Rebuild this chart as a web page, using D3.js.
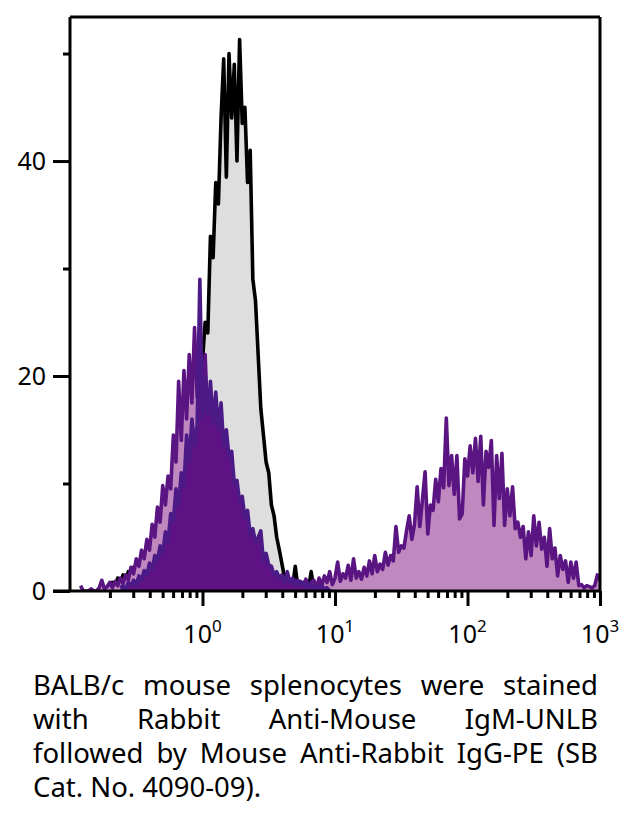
<!DOCTYPE html>
<html>
<head>
<meta charset="utf-8">
<script src="https://cdn.jsdelivr.net/npm/d3@7"></script>
<style>
body { margin: 0; background: #fff; }
</style>
</head>
<body>
<svg id="chart" width="625" height="818"></svg>
<script>
// channel grid of the histogram: 50 channels per decade, channel 0 sits at 10^-1
var chLog0 = -1, chStep = 0.02;

// unstained (grey, black outline)
var grayStart = 14;
var grayCounts = [
  0.4, 0, 0.8, 0.3, 1.2, 0.6, 1.5, 0.8, 1.8, 1.2,
  2.2, 1.8, 2.8, 2.5, 3.6, 3.2, 4.5, 4.1, 5.6, 5.2,
  6.9, 6.4, 8.1, 7.8, 9.6, 9.4, 11.2, 11.0, 13.1, 12.9,
  15.0, 15.2, 17.3, 17.0, 18.0, 19.6, 21.5, 25, 24, 33,
  31, 38, 36, 44, 49.5, 38.5, 50, 44, 49, 40,
  51.3, 43.5, 45, 38, 41, 29, 27, 22, 17, 14.5,
  12, 11, 8, 7, 5, 3.8, 2.5, 1.2, 0.6, 0.3,
  0.4, 2.3, 0.3, 0.2, 0.1, 0.3, 0.2, 1.8, 0.2, 0.1, 0
];

// stained sample (light purple, two populations)
var lightStart = 4;
var lightCounts = [
  0.5, 0, 0, 0, 0.2, 0, 0, 0.3, 1.0, 0.2,
  0.4, 0.8, 0.3, 0.9, 0.5, 1.2, 0.7, 1.5, 1.0, 2.2,
  1.6, 3.0, 2.3, 3.8, 3.0, 4.8, 3.8, 6.2, 5.0, 7.8,
  6.4, 9.8, 8.0, 10.7, 9.5, 14.5, 12.0, 19.5, 14.0, 20.5,
  16.0, 22.0, 17.5, 24.5, 18.0, 21.5, 17.0, 22.0, 15.5, 18.2,
  14.0, 17.3, 12.5, 14.0, 11.0, 13.3, 9.5, 10.5, 8.0, 8.9,
  6.5, 7.0, 5.0, 5.5, 4.0, 5.1, 3.0, 4.9, 2.2, 2.7,
  1.5, 1.9, 1.0, 1.4, 0.6, 1.2, 0.5, 0.9, 0.3, 0.8,
  0.4, 1.0, 0.3, 0.9, 0.5, 1.1, 0.4, 0.8, 1.0, 0.3,
  1.2, 0.5, 1.4, 0.8, 1.8, 0.6, 1.2, 2.7, 0.9, 1.6,
  1.2, 2.4, 1.0, 3.0, 1.2, 1.8, 1.1, 2.2, 1.4, 2.8,
  1.6, 3.3, 1.8, 2.5, 2.0, 3.6, 2.4, 3.3, 2.8, 6.0,
  3.6, 4.2, 4.0, 5.6, 7.0, 4.8, 6.2, 9.7, 6.0, 8.5,
  11.1, 5.3, 8.0, 7.5, 10.4, 8.3, 11.4, 9.6, 16.1, 9.8,
  12.6, 9.0, 12.6, 6.7, 7.2, 12.3, 10.7, 13.5, 11.0, 14.2,
  10.2, 14.4, 8.0, 13.0, 11.5, 14.0, 6.1, 12.6, 8.6, 12.8,
  6.1, 9.5, 7.0, 9.7, 5.8, 6.4, 5.0, 6.0, 3.0, 5.5,
  3.3, 7.0, 4.2, 6.4, 3.9, 5.0, 2.3, 5.8, 3.0, 4.0,
  1.4, 3.3, 2.0, 2.8, 0.8, 2.7, 1.2, 2.7, 0.5, 0.6,
  0.3, 0.5, 0.4, 0.3, 0.5, 1.5, 1.0
];

// secondary only (dark purple)
var darkStart = 19;
var darkCounts = [
  0.3, 0.5, 0.2, 0.8, 0.5, 1.0, 0.6, 1.4, 1.0, 1.9,
  1.5, 2.6, 2.0, 3.3, 2.8, 4.2, 3.5, 5.5, 4.6, 7.2,
  6.5, 9.5, 8.0, 11.0, 9.8, 14.5, 12.0, 16.0, 13.5, 15.5,
  29.0, 16.0, 20.0, 16.5, 19.5, 15.5, 18.5, 15.0, 17.5, 13.5,
  15.0, 12.5, 13.0, 10.0, 10.3, 8.3, 8.8, 6.8, 7.5, 5.2,
  5.8, 4.5, 5.0, 5.6, 2.8, 3.5, 2.4, 2.3, 1.5, 1.8,
  1.2, 1.5, 0.8, 1.8, 0.8, 1.2, 0.6, 1.0, 0.5, 0.8,
  0.4, 0.7, 0.3, 0.6, 0.2, 0.4, 0.5, 0.2, 0.3, 0, 0
];

var yMajor = [0, 20, 40];
var yMinor = [10, 30, 50];
var xMajor = [1, 10, 100, 1000];
var xExp = ["0", "1", "2", "3"];
var xDecades = [0.1, 1, 10, 100];
var xMinorSteps = [2, 3, 4, 5, 6, 7, 8, 9];

var caption = [
  "BALB/c mouse splenocytes were stained",
  "with Rabbit Anti-Mouse IgM-UNLB",
  "followed by Mouse Anti-Rabbit IgG-PE (SB",
  "Cat. No. 4090-09)."
];

var svg = d3.select("#chart");
var font = "'Noto Sans', sans-serif";

var x = d3.scaleLog().domain([0.1, 1000]).range([70, 600]);
var y = d3.scaleLinear().domain([0, 53.4]).range([591, 17]);

function toPoints(start, counts) {
  return counts.map(function(c, i) {
    return { v: Math.pow(10, chLog0 + (start + i) * chStep), c: c };
  });
}

svg.append("clipPath").attr("id", "plotclip")
  .append("rect").attr("x", 70).attr("y", 17).attr("width", 530).attr("height", 574);

var area = d3.area()
  .x(function(d) { return x(d.v); })
  .y0(y(0))
  .y1(function(d) { return y(d.c); });
var line = d3.line()
  .x(function(d) { return x(d.v); })
  .y(function(d) { return y(d.c); });

var series = [
  { start: grayStart, counts: grayCounts, fill: "#dedede", stroke: "#000000" },
  { start: lightStart, counts: lightCounts, fill: "#bf89bf", stroke: "#5b1583" },
  { start: darkStart, counts: darkCounts, fill: "#5f1283", stroke: "#4b1a86" }
];

var plot = svg.append("g").attr("clip-path", "url(#plotclip)");
series.forEach(function(s) {
  var p = toPoints(s.start, s.counts);
  plot.append("path").datum(p).attr("d", area).attr("fill", s.fill);
  plot.append("path").datum(p).attr("d", line)
    .attr("fill", "none").attr("stroke", s.stroke)
    .attr("stroke-width", 3.6).attr("stroke-linejoin", "round");
});

// axes
var xMinor = [];
xDecades.forEach(function(d) { xMinorSteps.forEach(function(m) { xMinor.push(d * m); }); });

var gxMinor = svg.append("g").attr("transform", "translate(0,591)")
  .call(d3.axisBottom(x).tickValues(xMinor).tickSize(7).tickFormat(""));
var gxMajor = svg.append("g").attr("transform", "translate(0,591)")
  .call(d3.axisBottom(x).tickValues(xMajor).tickSize(15).tickFormat(""));

var gyMinor = svg.append("g").attr("transform", "translate(70,0)")
  .call(d3.axisLeft(y).tickValues(yMinor).tickSize(7).tickFormat(""));
var gyMajor = svg.append("g").attr("transform", "translate(70,0)")
  .call(d3.axisLeft(y).tickValues(yMajor).tickSize(17).tickPadding(7).tickFormat(d3.format("d")));

[gxMinor, gxMajor, gyMinor, gyMajor].forEach(function(g) {
  g.select(".domain").remove();
  g.selectAll(".tick line").attr("stroke", "#000").attr("stroke-width", 3);
});
gyMajor.selectAll(".tick text")
  .attr("font-family", font).attr("font-size", 25).attr("fill", "#000");

// x labels as 10^n
xMajor.forEach(function(v, i) {
  var t = svg.append("text")
    .attr("x", x(v)).attr("y", 643)
    .attr("text-anchor", "middle")
    .attr("font-family", font).attr("font-size", 25).attr("fill", "#000");
  t.append("tspan").text("10");
  t.append("tspan").attr("font-size", 17).attr("dy", -11).text(xExp[i]);
});

// frame
svg.append("path")
  .attr("d", "M70,17V591 M70,17H600 M600,17V591 M53,591H600")
  .attr("fill", "none").attr("stroke", "#000").attr("stroke-width", 3);

// caption, justified word by word
var capX0 = 33, capX1 = 598, capSize = 27.5;
var capBase = [695, 729, 763, 797];
var cap = svg.append("g").attr("font-family", font).attr("font-size", capSize).attr("fill", "#000");

function measure(s) {
  var t = cap.append("text").text(s);
  var w = t.node().getComputedTextLength();
  t.remove();
  return w;
}
var spaceW = measure("a b") - measure("ab");
var W = capX1 - capX0;
caption.forEach(function(l, li) {
  var ws = l.split(" ").map(function(w) { return { w: w, width: measure(w) }; });
  var sum = d3.sum(ws, function(d) { return d.width; });
  var gap = li === caption.length - 1 ? spaceW : Math.max(spaceW * 0.6, (W - sum) / (ws.length - 1));
  var cx = capX0;
  ws.forEach(function(d) {
    cap.append("text").attr("x", cx).attr("y", capBase[li]).text(d.w);
    cx += d.width + gap;
  });
});
</script>
</body>
</html>
